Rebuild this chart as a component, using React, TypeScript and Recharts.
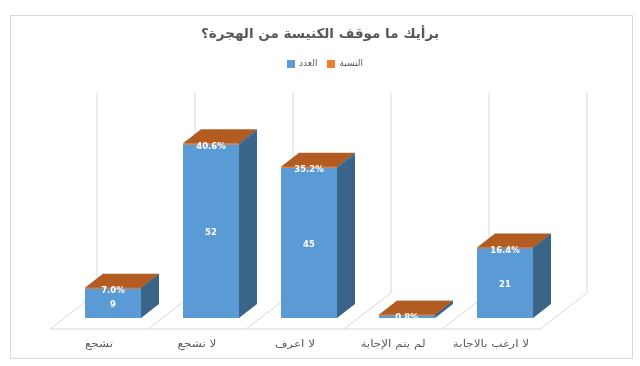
import { Bar, BarChart, CartesianGrid, LabelList, Legend, XAxis, YAxis } from 'recharts';

const categories = ['تشجع', 'لا تشجع', 'لا اعرف', 'لم يتم الإجابة', 'لا ارغب بالاجابة'];
const counts = [9, 52, 45, 1, 21];
const shares = [0.07, 0.406, 0.352, 0.008, 0.164];
const countName = 'العدد';
const shareName = 'النسبة';
const title = 'برأيك ما موقف الكنيسة من الهجرة؟';

const chartData = categories.map((name, i) => ({ name, count: counts[i], share: shares[i] }));

const FONT = '"DejaVu Sans", sans-serif';
const TEXT = '#595959';
const LINE = '#d9d9d9';
const DEPTH_X = 18;
const DEPTH_Y = 14;

function Box3D({ x, y, width, height, fill, top, side }: any) {
    const h = Math.max(height, 1);
    return (
        <g>
            <polygon
                points={`${x + width},${y} ${x + width + DEPTH_X},${y - DEPTH_Y} ${x + width + DEPTH_X},${y + h - DEPTH_Y} ${x + width},${y + h}`}
                fill={side}
            />
            <polygon
                points={`${x},${y} ${x + DEPTH_X},${y - DEPTH_Y} ${x + width + DEPTH_X},${y - DEPTH_Y} ${x + width},${y}`}
                fill={top}
            />
            <rect x={x} y={y} width={width} height={h} fill={fill} />
        </g>
    );
}

// walls and floor sit behind the bars, so each grid line is pushed back in depth
function WallLine({ x1, y1, y2, index }: any) {
    const bandWidth = 98;
    return (
        <g stroke={LINE} fill="none">
            <line x1={x1 + 33} y1={y1 - 25} x2={x1 + 33} y2={y2 - 25} />
            <line x1={x1 - 14} y1={y2 + 11} x2={x1 + 33} y2={y2 - 25} />
            {index < categories.length ? <line x1={x1 - 14} y1={y2 + 11} x2={x1 - 14 + bandWidth} y2={y2 + 11} /> : null}
        </g>
    );
}

// chrome ignores letter spacing on arabic, so the labels get stretched instead
function CategoryTick({ x, y, payload }: any) {
    return (
        <text
            transform={`translate(${x - 14},${y + 21}) scale(1.2,1)`}
            textAnchor="middle"
            fontSize={10}
            fontFamily={FONT}
            fill={TEXT}
        >
            {payload.value}
        </text>
    );
}

export default function App() {
    return (
        <div
            style={{
                position: 'absolute',
                left: 0,
                top: 0,
                width: 640,
                height: 366,
                background: '#fff',
                filter: 'blur(0.4px)',
            }}
        >
            <div
                style={{
                    position: 'absolute',
                    left: 10,
                    top: 15,
                    width: 621,
                    height: 342,
                    border: `1px solid ${LINE}`,
                }}
            />
            <div
                style={{
                    position: 'absolute',
                    left: 0,
                    width: 640,
                    top: 25,
                    textAlign: 'center',
                    fontFamily: FONT,
                    fontWeight: 700,
                    fontSize: 13.5,
                    color: TEXT,
                }}
            >
                {title}
            </div>
            <BarChart
                width={640}
                height={366}
                data={chartData}
                margin={{ top: 118, right: 86, left: 64, bottom: 0 }}
                style={{ position: 'absolute', left: 0, top: 0 }}
            >
                <CartesianGrid
                    horizontal={false}
                    verticalCoordinatesGenerator={({ offset }: any) =>
                        [0, 1, 2, 3, 4, 5].map((i) => offset.left + (i * offset.width) / categories.length)
                    }
                    vertical={(props: any) => <WallLine key={props.key} {...props} />}
                />
                <XAxis dataKey="name" height={48} axisLine={false} tickLine={false} interval={0} tick={<CategoryTick />} />
                <YAxis hide domain={[0, 60]} />
                <Legend
                    verticalAlign="middle"
                    align="center"
                    iconType="square"
                    iconSize={8}
                    itemSorter={null}
                    wrapperStyle={{ top: 58, left: 286, width: 88, fontSize: 9, fontFamily: FONT }}
                    formatter={(value: string) => <span style={{ color: TEXT }}>{value}</span>}
                />
                <Bar
                    dataKey="count"
                    name={countName}
                    stackId="a"
                    barSize={56}
                    fill="#5b9bd5"
                    isAnimationActive={false}
                    shape={<Box3D top="#5b9bd5" side="#3a6488" />}
                >
                    <LabelList
                        dataKey="count"
                        position="center"
                        dy={1}
                        fill="#fff"
                        fontSize={8.5}
                        fontWeight={700}
                        fontFamily={FONT}
                        formatter={(v: number) => (v > 1 ? v : '')}
                    />
                </Bar>
                <Bar
                    dataKey="share"
                    name={shareName}
                    stackId="a"
                    barSize={56}
                    fill="#ed7d31"
                    isAnimationActive={false}
                    shape={<Box3D top="#b35c22" side="#3a6488" />}
                >
                    <LabelList
                        dataKey="share"
                        position="center"
                        dy={2}
                        fill="#fff"
                        fontSize={8.5}
                        fontWeight={700}
                        fontFamily={FONT}
                        formatter={(v: number) => `${(v * 100).toFixed(1)}%`}
                    />
                </Bar>
            </BarChart>
        </div>
    );
}
